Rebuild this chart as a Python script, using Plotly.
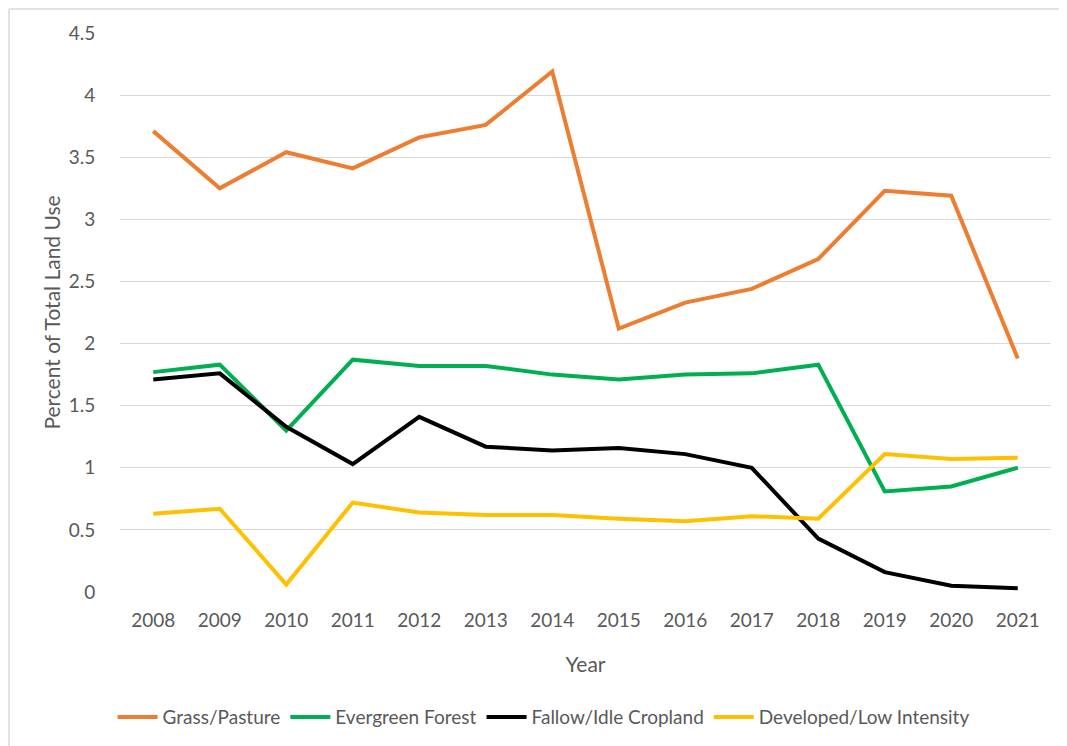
import plotly.graph_objects as go

years = [str(y) for y in range(2008, 2022)]

grass_pasture = [3.71, 3.25, 3.54, 3.41, 3.66, 3.76, 4.19, 2.12, 2.33, 2.44, 2.68, 3.23, 3.19, 1.88]
evergreen_forest = [1.77, 1.83, 1.30, 1.87, 1.82, 1.82, 1.75, 1.71, 1.75, 1.76, 1.83, 0.81, 0.85, 1.00]
fallow_idle = [1.71, 1.76, 1.33, 1.03, 1.41, 1.17, 1.14, 1.16, 1.11, 1.00, 0.43, 0.16, 0.05, 0.03]
developed_low = [0.63, 0.67, 0.06, 0.72, 0.64, 0.62, 0.62, 0.59, 0.57, 0.61, 0.59, 1.11, 1.07, 1.08]

series = [
    ("Grass/Pasture", grass_pasture, "#ED7D31"),
    ("Evergreen Forest", evergreen_forest, "#00B050"),
    ("Fallow/Idle Cropland", fallow_idle, "#000000"),
    ("Developed/Low Intensity", developed_low, "#FFC000"),
]

FONT = "Lato, 'Open Sans', sans-serif"
GREY = "#595959"

fig = go.Figure()
for name, vals, color in series:
    fig.add_trace(go.Scatter(
        x=years, y=vals, name=name, mode="lines",
        line=dict(color=color, width=4),
    ))

# page body has an 8px margin, so the figure is sized to fill the rest
fig.update_layout(
    width=1059, height=738,
    margin=dict(l=112, r=16, t=25, b=154, autoexpand=False),
    paper_bgcolor="white", plot_bgcolor="white",
    font=dict(family=FONT, size=19, color=GREY),
    showlegend=True,
    legend=dict(orientation="h", x=0.455, xanchor="center", y=-0.19, yanchor="top",
                font=dict(size=19, color=GREY), itemwidth=40, tracegroupgap=0),
    xaxis=dict(type="category", range=[-0.5, 13.5], showgrid=False, zeroline=False,
               showline=False, ticks="outside", ticklen=11, tickcolor="white",
               tickfont=dict(size=19, color=GREY), automargin=False,
               title=dict(text="Year", font=dict(size=21, color=GREY), standoff=27)),
    yaxis=dict(range=[0, 4.5], dtick=0.5, showgrid=True, gridcolor="#D9D9D9",
               gridwidth=1, zeroline=False, showline=False,
               ticks="outside", ticklen=20, tickcolor="white",
               tickfont=dict(size=19, color=GREY), automargin=False,
               title=dict(text="Percent of Total Land Use", font=dict(size=21, color=GREY),
                          standoff=2)),
)

# light chart-area border (visible on left and top only)
fig.add_shape(type="line", xref="paper", yref="paper",
              x0=-111 / 931, x1=-111 / 931, y0=-160 / 559, y1=1 + 24 / 559,
              line=dict(color="#D9D9D9", width=1.5))
fig.add_shape(type="line", xref="paper", yref="paper",
              x0=-111 / 931, x1=1 + 20 / 931, y0=1 + 24 / 559, y1=1 + 24 / 559,
              line=dict(color="#D9D9D9", width=1.5))

fig.write_html("out.html")
